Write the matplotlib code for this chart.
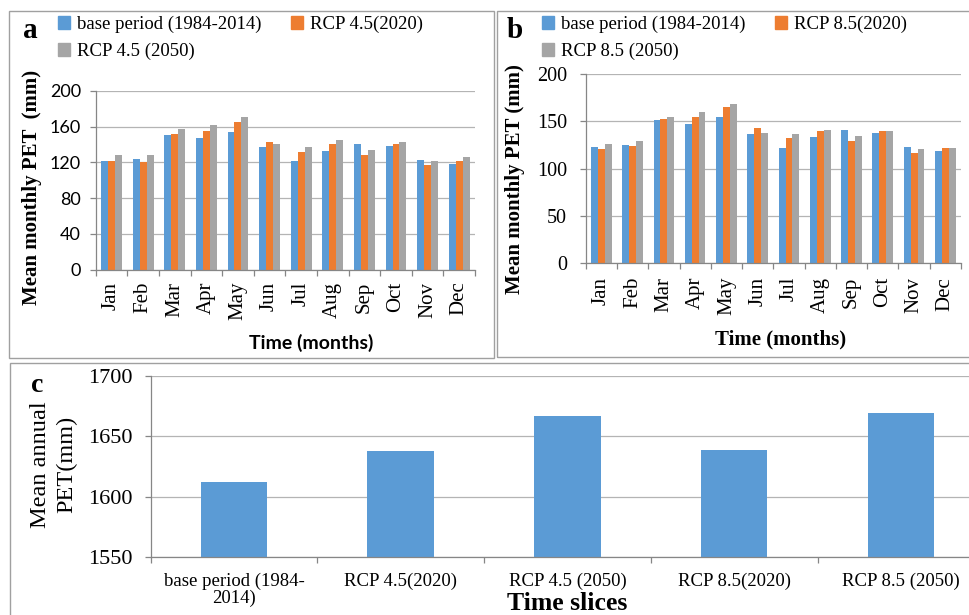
import numpy as np
import matplotlib
matplotlib.use("Agg")
import matplotlib.pyplot as plt
from matplotlib.patches import Rectangle, Patch

plt.rcParams['font.family'] = ['Liberation Serif', 'DejaVu Serif']

months = ['Jan', 'Feb', 'Mar', 'Apr', 'May', 'Jun', 'Jul', 'Aug', 'Sep', 'Oct', 'Nov', 'Dec']

# mean monthly PET (mm)
base_a = [122, 124, 151, 147, 154, 137, 121, 133, 140, 138, 123, 118]
rcp45_2020 = [121, 120, 152, 155, 165, 143, 131, 140, 128, 140, 117, 122]
rcp45_2050 = [128, 128, 157, 162, 171, 140, 137, 145, 134, 143, 121, 126]

base_b = [123, 125, 151, 147, 155, 137, 122, 133, 141, 138, 123, 119]
rcp85_2020 = [121, 124, 152, 155, 165, 143, 132, 140, 129, 140, 116, 122]
rcp85_2050 = [126, 129, 154, 160, 168, 138, 136, 141, 134, 140, 121, 122]

# mean annual PET (mm)
slices = ['base period (1984-\n2014)', 'RCP 4.5(2020)', 'RCP 4.5 (2050)', 'RCP 8.5(2020)', 'RCP 8.5 (2050)']
annual = [1612, 1638, 1667, 1639, 1669]

BLUE = '#5b9bd5'
ORANGE = '#ed7d31'
GRAY = '#a5a5a5'
GRID = '#b4b4b4'
SPINE = '#868686'
FRAME = '#a0a0a0'

W, H = 970, 615
fig = plt.figure(figsize=(W / 100, H / 100), dpi=100)


def px_axes(l, t, r, b):
    return fig.add_axes([l / W, 1 - b / H, (r - l) / W, (b - t) / H])


def frame(l, t, r, b):
    fig.patches.append(Rectangle((l / W, 1 - b / H), (r - l) / W, (b - t) / H,
                                 transform=fig.transFigure, fill=False,
                                 edgecolor=FRAME, linewidth=1.0, zorder=0))


def style(ax, ypad, xpad):
    for s in ['top', 'right']:
        ax.spines[s].set_visible(False)
    for s in ['left', 'bottom']:
        ax.spines[s].set_color(SPINE)
        ax.spines[s].set_linewidth(0.9)
    ax.set_axisbelow(True)
    ax.yaxis.grid(True, color=GRID, linewidth=0.9)
    ax.tick_params(axis='y', length=4.5, color=SPINE, width=0.9, pad=ypad)
    ax.tick_params(axis='x', which='major', length=0, pad=xpad)
    ax.tick_params(axis='x', which='minor', length=4.5, color=SPINE, width=0.9)


def monthly(ax, base, r20, r50, yticks, ytick_font, ypad, xpad):
    x = np.arange(len(months))
    w = 0.22
    ax.bar(x - w, base, w, color=BLUE)
    ax.bar(x, r20, w, color=ORANGE)
    ax.bar(x + w, r50, w, color=GRAY)
    ax.set_xlim(-0.5, len(months) - 0.5)
    ax.set_ylim(0, 200)
    ax.set_yticks(yticks)
    ax.set_xticks(x)
    ax.set_xticks(np.arange(len(months) + 1) - 0.5, minor=True)
    ax.set_xticklabels(months, rotation=90, fontsize=15)
    ax.set_yticklabels([str(v) for v in yticks], **ytick_font)
    style(ax, ypad, xpad)


# panel a
frame(9.5, 11, 494, 358)
ax_a = px_axes(95.7, 90.7, 475, 269.7)
monthly(ax_a, base_a, rcp45_2020, rcp45_2050, [0, 40, 80, 120, 160, 200],
        dict(family='Lato', fontsize=13), 6, 8.5)
ax_a.set_ylabel('Mean monthly PET  (mm)', fontsize=15, fontweight='bold', va='center')
ax_a.yaxis.set_label_coords(-0.168, 0.462)
ax_a.set_xlabel('Time (months)', family='Lato', fontsize=14, fontweight='bold', va='center')
ax_a.xaxis.set_label_coords(0.569, -0.41)
fig.text(30 / W, 1 - 31 / H, 'a', fontsize=21, fontweight='bold', ha='center', va='center')

# panel b
frame(497, 11, 980, 357)
ax_b = px_axes(585.7, 74, 961, 263)
monthly(ax_b, base_b, rcp85_2020, rcp85_2050, [0, 50, 100, 150, 200],
        dict(fontsize=14.5), 9, 10)
ax_b.set_ylabel('Mean monthly PET (mm)', fontsize=15, fontweight='bold', va='center')
ax_b.yaxis.set_label_coords(-0.188, 0.444)
ax_b.set_xlabel('Time (months)', fontsize=15, fontweight='bold', va='center')
ax_b.xaxis.set_label_coords(0.519, -0.407)
fig.text(515 / W, 1 - 31 / H, 'b', fontsize=21, fontweight='bold', ha='center', va='center')

# legends
leg_kw = dict(loc='upper left', ncol=2, frameon=False, fontsize=13.5,
              handlelength=0.65, handleheight=0.65, handletextpad=0.35,
              columnspacing=1.6, labelspacing=0.5, borderpad=0, borderaxespad=0)
fig.legend([Patch(color=BLUE), Patch(color=GRAY), Patch(color=ORANGE)],
           ['base period (1984-2014)', 'RCP 4.5 (2050)', 'RCP 4.5(2020)'],
           bbox_to_anchor=(58 / W, 1 - 16 / H), **leg_kw)
fig.legend([Patch(color=BLUE), Patch(color=GRAY), Patch(color=ORANGE)],
           ['base period (1984-2014)', 'RCP 8.5 (2050)', 'RCP 8.5(2020)'],
           bbox_to_anchor=(542 / W, 1 - 16 / H), **leg_kw)

# panel c
frame(10, 363, 985, 625)
ax_c = px_axes(150.7, 375.7, 984.2, 557.3)
xc = np.arange(len(slices))
ax_c.bar(xc, annual, 0.4, color=BLUE)
ax_c.set_xlim(-0.5, len(slices) - 0.5)
ax_c.set_ylim(1550, 1700)
ax_c.set_yticks([1550, 1600, 1650, 1700])
ax_c.set_yticklabels(['1550', '1600', '1650', '1700'], fontsize=16)
ax_c.set_xticks(xc)
ax_c.set_xticks(np.arange(len(slices) + 1) - 0.5, minor=True)
ax_c.set_xticklabels(slices, fontsize=13.5, linespacing=1.0)
style(ax_c, 8.5, 11)
ax_c.tick_params(axis='x', which='minor', length=4)
ax_c.set_ylabel('Mean annual\nPET(mm)', fontsize=17.5, linespacing=1.3, va='center')
ax_c.yaxis.set_label_coords(-0.1166, 0.51)
ax_c.set_xlabel('Time slices', fontsize=18.5, fontweight='bold', va='center')
ax_c.xaxis.set_label_coords(0.5, -0.252)
fig.text(37 / W, 1 - 385 / H, 'c', fontsize=20, fontweight='bold', ha='center', va='center')

fig.savefig('out.png', dpi=100)
